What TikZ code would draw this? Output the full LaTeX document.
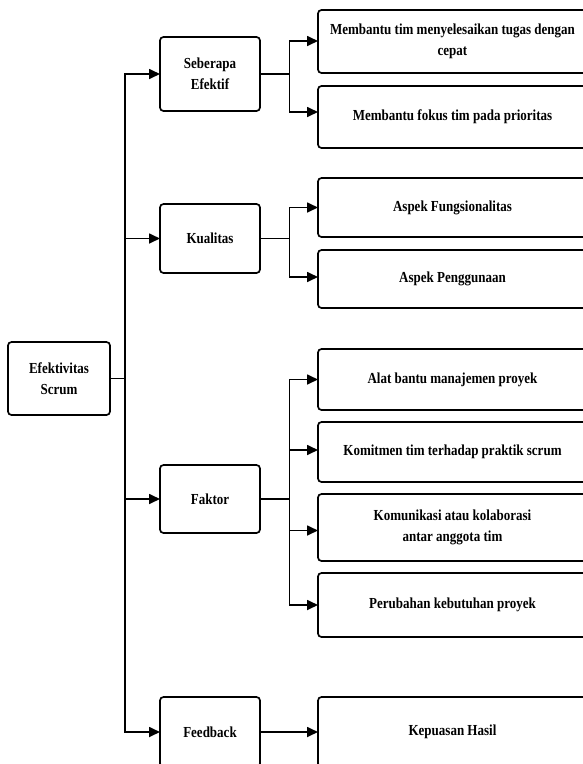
\documentclass[tikz,border=0pt]{standalone}
\usepackage{fontspec}
\setmainfont[FakeStretch=0.85]{Liberation Serif}
\usetikzlibrary{arrows.meta}
\begin{document}
\begin{tikzpicture}[x=1pt,y=-1pt,
  box/.style={draw, line width=1.7pt, rounded corners=3.5pt, fill=white, align=center,
    inner sep=2pt, outer sep=0pt, font=\fontsize{15.3}{21}\selectfont\bfseries},
  midbox/.style={box, minimum width=100pt},
  leafbox/.style={box, minimum width=269pt},
  conn/.style={line width=1.7pt},
  arr/.style={conn, -{Triangle[length=11pt,width=10pt]}}]
\clip (0,0) rectangle (583,764);
\fill[white] (0,0) rectangle (583,764);

% root
\node[box, minimum width=102pt, minimum height=73pt] (root) at (59,378.5) {Efektivitas\\Scrum};

% middle nodes
\node[midbox, minimum height=74pt] (seb) at (210,74) {Seberapa\\Efektif};
\node[midbox, minimum height=69pt] (kual) at (210,238.5) {Kualitas};
\node[midbox, minimum height=68pt] (fak) at (210,499) {Faktor};
\node[midbox, minimum height=70pt] (fb) at (210,732) {Feedback};

% leaves
\node[leafbox, minimum height=63pt] (s1) at (452.5,41.5) {Membantu tim menyelesaikan tugas dengan\\cepat};
\node[leafbox, minimum height=62pt] (s2) at (452.5,117) {Membantu fokus tim pada prioritas};
\node[leafbox, minimum height=59pt] (k1) at (452.5,207.5) {Aspek Fungsionalitas};
\node[leafbox, minimum height=58pt] (k2) at (452.5,279) {Aspek Penggunaan};
\node[leafbox, minimum height=61pt] (f1) at (452.5,379.5) {Alat bantu manajemen proyek};
\node[leafbox, minimum height=60pt] (f2) at (452.5,452) {Komitmen tim terhadap praktik scrum};
\node[leafbox, minimum height=67pt] (f3) at (452.5,527.5) {Komunikasi atau kolaborasi\\antar anggota tim};
\node[leafbox, minimum height=64pt] (f4) at (452.5,605) {Perubahan kebutuhan proyek};
\node[leafbox, minimum height=70pt] (fb1) at (452.5,732) {Kepuasan Hasil};

% trunk
\coordinate (tr) at (125,0);
\coordinate (bx) at (289.5,0);
\draw[conn] (root.east) -- (root.east -| tr);
\draw[arr] (root.east -| tr) |- (seb.west);
\draw[arr] (root.east -| tr) |- (kual.west);
\draw[arr] (root.east -| tr) |- (fak.west);
\draw[arr] (root.east -| tr) |- (fb.west);

% branches
\draw[conn] (seb.east) -- (seb.east -| bx);
\draw[arr] (seb.east -| bx) |- ([yshift=0.5pt]s1.west);
\draw[arr] (seb.east -| bx) |- ([yshift=5pt]s2.west);

\draw[conn] (kual.east) -- (kual.east -| bx);
\draw[arr] (kual.east -| bx) |- (k1.west);
\draw[arr] (kual.east -| bx) |- ([yshift=2pt]k2.west);

\draw[conn] (fak.east) -- (fak.east -| bx);
\draw[arr] (fak.east -| bx) |- (f1.west);
\draw[arr] (fak.east -| bx) |- ([yshift=2pt]f2.west);
\draw[arr] (fak.east -| bx) |- ([yshift=-3pt]f3.west);
\draw[arr] (fak.east -| bx) |- (f4.west);

\draw[arr] (fb.east) -- (fb1.west);
\end{tikzpicture}
\end{document}
